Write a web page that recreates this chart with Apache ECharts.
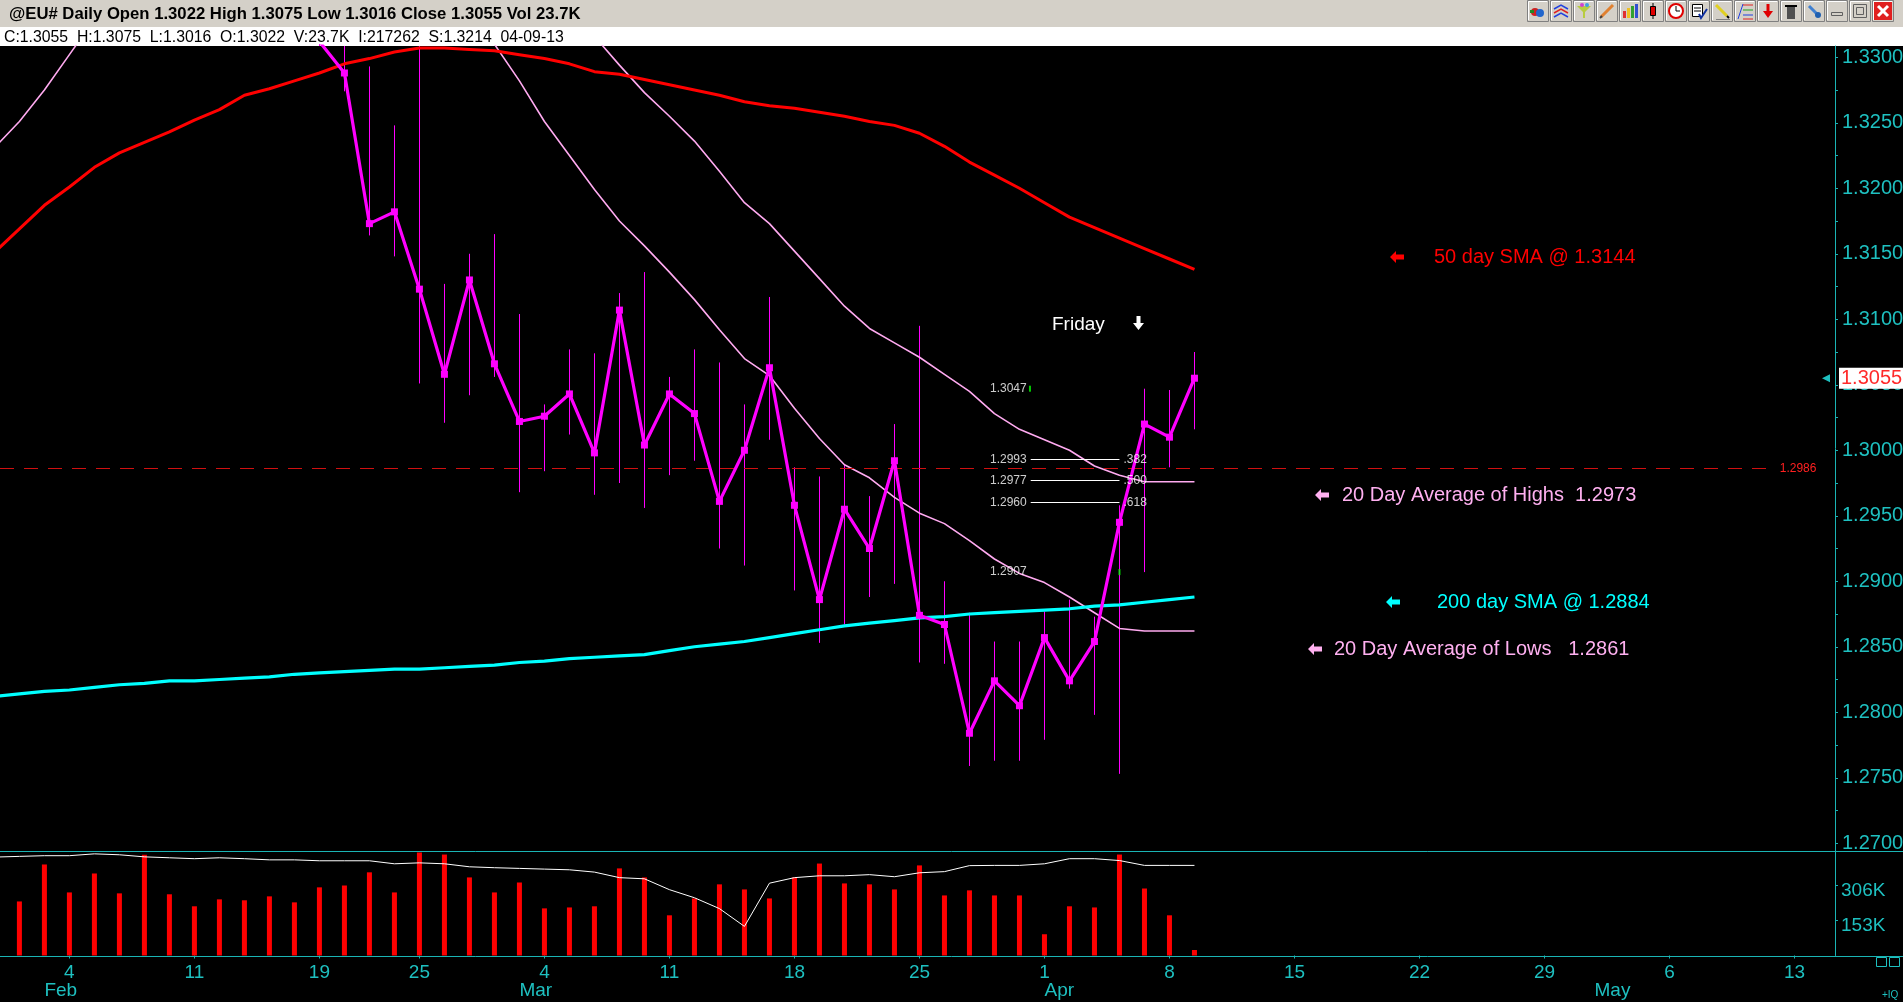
<!DOCTYPE html>
<html>
<head>
<meta charset="utf-8">
<title>@EU# Daily</title>
<script src="https://cdn.jsdelivr.net/npm/echarts@6/dist/echarts.min.js"></script>
<style>
html, body { margin: 0; padding: 0; background: #000; }
#chart { width: 1903px; height: 1002px; }
</style>
</head>
<body>
<div id="chart"></div>
<script>
// trading days, index 0 = 2013-01-30 (Presidents' Day skipped)
var startDay = '2013-01-30';
var endDay = '2013-05-17';
var holidays = ['2013-02-18'];
var monthNames = ['Jan','Feb','Mar','Apr','May','Jun','Jul','Aug','Sep','Oct','Nov','Dec'];

// daily bars, Jan 30 .. Apr 9 (above the chart top before Feb 19 -> left empty)
var closes = [null, null, null, null, null, null, null, null, null, null, null, null, null,
  1.3312, 1.3288, 1.3173, 1.3182, 1.3123, 1.3058, 1.3130, 1.3066, 1.3022, 1.3026,
  1.3043, 1.2998, 1.3107, 1.3004, 1.3043, 1.3028, 1.2961, 1.3000, 1.3063, 1.2958,
  1.2886, 1.2955, 1.2925, 1.2992, 1.2874, 1.2867, 1.2784, 1.2824, 1.2805, 1.2857,
  1.2824, 1.2854, 1.2945, 1.3020, 1.3010, 1.3055];
var highs = [null, null, null, null, null, null, null, null, null, null, null, null, null,
  1.3370, 1.3340, 1.3293, 1.3248, 1.3320, 1.3127, 1.3150, 1.3165, 1.3104, 1.3035,
  1.3077, 1.3074, 1.3120, 1.3136, 1.3056, 1.3077, 1.3067, 1.3035, 1.3117, 1.2987,
  1.2980, 1.2989, 1.2965, 1.3020, 1.3095, 1.2900, 1.2876, 1.2854, 1.2854, 1.2877,
  1.2886, 1.2873, 1.2958, 1.3047, 1.3046, 1.3075];
var lows = [null, null, null, null, null, null, null, null, null, null, null, null, null,
  1.3310, 1.3274, 1.3164, 1.3148, 1.3051, 1.3021, 1.3042, 1.3056, 1.2968, 1.2984,
  1.3012, 1.2966, 1.2975, 1.2956, 1.2981, 1.2992, 1.2925, 1.2912, 1.3008, 1.2893,
  1.2853, 1.2867, 1.2888, 1.2898, 1.2838, 1.2837, 1.2759, 1.2763, 1.2763, 1.2779,
  1.2818, 1.2798, 1.2753, 1.2907, 1.2987, 1.3016];

var sma50 = [1.3151, 1.3169, 1.3187, 1.3201, 1.3216, 1.3227, 1.3235, 1.3243, 1.3252, 1.3260,
  1.3271, 1.3276, 1.3282, 1.3288, 1.3295, 1.3299, 1.3304, 1.3307, 1.3307, 1.3306,
  1.3305, 1.3302, 1.3299, 1.3295, 1.3289, 1.3287, 1.3283, 1.3279, 1.3275, 1.3271,
  1.3266, 1.3263, 1.3261, 1.3258, 1.3255, 1.3251, 1.3248, 1.3242, 1.3232, 1.3220,
  1.3210, 1.3200, 1.3189, 1.3178, 1.3170, 1.3162, 1.3154, 1.3146, 1.3138];
var sma200 = [1.2812, 1.2814, 1.2816, 1.2817, 1.2819, 1.2821, 1.2822, 1.2824, 1.2824, 1.2825,
  1.2826, 1.2827, 1.2829, 1.2830, 1.2831, 1.2832, 1.2833, 1.2833, 1.2834, 1.2835,
  1.2836, 1.2838, 1.2839, 1.2841, 1.2842, 1.2843, 1.2844, 1.2847, 1.2850, 1.2852,
  1.2854, 1.2857, 1.2860, 1.2863, 1.2866, 1.2868, 1.2870, 1.2872, 1.2873, 1.2875,
  1.2876, 1.2877, 1.2878, 1.2879, 1.2881, 1.2882, 1.2884, 1.2886, 1.2888];
var avgLows20 = [1.3231, 1.3251, 1.3275, 1.3302, 1.3329, null, null, null, null, null,
  null, null, null, null, null, null, null, null, null, 1.3336,
  1.3310, 1.3282, 1.3251, 1.3225, 1.3199, 1.3175, 1.3156, 1.3136, 1.3115, 1.3092,
  1.3070, 1.3057, 1.3032, 1.3009, 1.2989, 1.2979, 1.2964, 1.2952, 1.2944, 1.2931,
  1.2917, 1.2906, 1.2899, 1.2888, 1.2876, 1.2864, 1.2862, 1.2862, 1.2862];
var avgHighs20 = [null, null, null, null, null, null, null, null, null, null,
  null, null, null, null, null, null, null, null, null, null,
  null, null, null, 1.3340, 1.3316, 1.3294, 1.3273, 1.3255, 1.3236, 1.3213,
  1.3189, 1.3173, 1.3152, 1.3131, 1.3110, 1.3093, 1.3082, 1.3071, 1.3058, 1.3045,
  1.3028, 1.3016, 1.3008, 1.3000, 1.2988, 1.2981, 1.2976, 1.2976, 1.2976];

// volume in thousands
var volumes = [null, 234, 394, 273, 355, 269, 436, 265, 213, 243, 239, 256, 230, 295, 303,
  360, 273, 446, 437, 338, 273, 316, 204, 208, 213, 377, 338, 174, 247, 308, 286,
  247, 338, 398, 312, 308, 286, 390, 260, 282, 260, 260, 92, 213, 208, 437, 290,
  174, 23.7];
var volumeAvg = [426, 429, 432, 432, 440, 436, 427, 423, 419, 423, 419, 414, 414, 410, 410,
  410, 397, 401, 397, 384, 380, 377, 374, 371, 361, 337, 332, 285, 250, 203, 126,
  313, 337, 345, 345, 350, 341, 358, 363, 389, 390, 390, 397, 419, 419, 411, 390,
  390, 390];

// axis ticks
var priceLabels = [1.2700, 1.2750, 1.2800, 1.2850, 1.2900, 1.2950, 1.3000, 1.3050, 1.3100, 1.3150, 1.3200, 1.3250, 1.3300];
var volumeLabels = [153, 306];

// drawn levels
var refLevel = 1.2986;
var fibHigh = 1.3047, fibLow = 1.2907;
var fibLevels = [1.2993, 1.2977, 1.2960];
var fibRatios = ['.382', '.500', '.618'];

// ---------------------------------------------------------------
var XMIN = 0.224, XMAX = 73.62;
var YMIN = 1.26941, YMAX = 1.33086;
var FONT = "'Liberation Sans', Arial, sans-serif";
var AXIS = '#1ec0c0', AXIS_LINE = '#1ab4b4';
var PINK = '#ffaaf0';

var days = [];
var dd = new Date(startDay + 'T00:00:00Z');
var endT = new Date(endDay + 'T00:00:00Z').getTime();
while (dd.getTime() <= endT) {
  var key = dd.toISOString().slice(0, 10);
  var wd = dd.getUTCDay();
  if (wd !== 0 && wd !== 6 && holidays.indexOf(key) < 0) days.push(new Date(dd.getTime()));
  dd.setUTCDate(dd.getUTCDate() + 1);
}
var weekStarts = [], monthStarts = [];
for (var i = 1; i < days.length && i <= XMAX; i++) {
  if (days[i].getUTCDay() < days[i - 1].getUTCDay()) weekStarts.push(i);
  if (days[i].getUTCMonth() !== days[i - 1].getUTCMonth()) monthStarts.push(i);
}

var priceTicks = [];
priceLabels.forEach(function (v, k) {
  priceTicks.push(v);
  if (k < priceLabels.length - 1) priceTicks.push(+(v + 0.0025).toFixed(4));
});

function pairs(arr) {
  return arr.map(function (v, k) { return [k, v]; });
}
var hlData = [];
highs.forEach(function (h, k) {
  if (h != null) hlData.push([k, lows[k], h]);
});
var lastIdx = closes.length - 1;
var lastClose = closes[lastIdx];
var fibLeft = 41.45, fibRight = lastIdx - 3;

var fibMarkLines = fibLevels.map(function (lv) {
  return [{ coord: [fibLeft, lv], lineStyle: { color: '#ffffff', width: 1, type: 'solid' }, label: { show: false } },
          { coord: [fibRight, lv] }];
});

var fibText = [];
[fibHigh].concat(fibLevels).concat([fibLow]).forEach(function (lv) {
  fibText.push({ value: [fibLeft, lv], label: { position: 'left', formatter: lv.toFixed(4) } });
});
fibLevels.forEach(function (lv, k) {
  fibText.push({ value: [fibRight, lv], label: { position: 'right', formatter: fibRatios[k] } });
});

// ---------------------------------------------------------------
// page furniture
var g = [];
g.push({ type: 'rect', shape: { x: 0, y: 0, width: 1903, height: 27 }, style: { fill: '#d4d0c8' } });
g.push({ type: 'rect', shape: { x: 0, y: 27, width: 1903, height: 19 }, style: { fill: '#ffffff' } });
g.push({ type: 'text', x: 9, y: 14, style: { text: '@EU# Daily Open 1.3022 High 1.3075 Low 1.3016 Close 1.3055 Vol 23.7K',
  fill: '#000', font: 'bold 16.7px ' + FONT, verticalAlign: 'middle' } });
g.push({ type: 'text', x: 4, y: 38, style: { text: 'C:1.3055  H:1.3075  L:1.3016  O:1.3022  V:23.7K  I:217262  S:1.3214  04-09-13',
  fill: '#000', font: '15.8px ' + FONT, verticalAlign: 'middle' } });

function R(x, y, w, h, fill, stroke) { g.push({ type: 'rect', shape: { x: x, y: y, width: w, height: h }, style: { fill: fill, stroke: stroke || null } }); }
function L(pts, stroke, w) { g.push({ type: 'polyline', shape: { points: pts }, style: { stroke: stroke, lineWidth: w || 1, fill: null } }); }
function P(pts, fill) { g.push({ type: 'polygon', shape: { points: pts }, style: { fill: fill } }); }
function C(x, y, r, fill, stroke, w) { g.push({ type: 'circle', shape: { cx: x, cy: y, r: r }, style: { fill: fill, stroke: stroke || null, lineWidth: w || 1 } }); }

// toolbar buttons
for (var b = 0; b < 16; b++) {
  var bx = 1527 + b * 23;
  R(bx + 0.5, 0.5, 21, 21, '#d4d0c8', '#808080');
  L([[bx + 1.5, 20], [bx + 1.5, 1.5], [bx + 20, 1.5]], '#ffffff');
  if (b === 0) { C(bx + 8, 12, 4, '#cc2222'); C(bx + 13, 13, 4, '#2266cc'); R(bx + 3, 10, 4, 3, '#228822'); }
  if (b === 1) { L([[bx + 4, 9], [bx + 11, 5], [bx + 18, 9]], '#2040e0', 1.5); L([[bx + 4, 13], [bx + 11, 9], [bx + 18, 13]], '#e02020', 1.5); L([[bx + 4, 17], [bx + 11, 13], [bx + 18, 17]], '#2040e0', 1.5); }
  if (b === 2) { P([[bx + 4, 6], [bx + 18, 6], [bx + 12, 12], [bx + 12, 18], [bx + 10, 18], [bx + 10, 12]], '#b8cc40'); C(bx + 9, 5, 2, '#d040d0'); C(bx + 14, 5, 2, '#40a0e0'); }
  if (b === 3) { L([[bx + 5, 17], [bx + 17, 5]], '#e08030', 3); L([[bx + 4, 18], [bx + 6, 16]], '#404040', 2); }
  if (b === 4) { R(bx + 4, 11, 3, 7, '#e03030'); R(bx + 8, 8, 3, 10, '#f0c020'); R(bx + 12, 6, 3, 12, '#30a030'); R(bx + 16, 4, 3, 14, '#3050d0'); }
  if (b === 5) { L([[bx + 11, 3], [bx + 11, 19]], '#000'); R(bx + 8.5, 6.5, 5, 9, '#e00000', '#000'); }
  if (b === 6) { C(bx + 11, 11, 7, '#ffffff', '#e00000', 2); L([[bx + 11, 11], [bx + 11, 6]], '#000'); L([[bx + 11, 11], [bx + 15, 11]], '#000'); }
  if (b === 7) { R(bx + 4.5, 4.5, 10, 12, '#ffffff', '#000'); L([[bx + 6, 8], [bx + 13, 8]], '#000'); L([[bx + 6, 11], [bx + 13, 11]], '#000'); L([[bx + 11, 14], [bx + 13, 18], [bx + 19, 9]], '#1030a0', 2); }
  if (b === 8) { L([[bx + 5, 5], [bx + 16, 16]], '#e0d020', 3); L([[bx + 16, 16], [bx + 18, 18]], '#000', 2); L([[bx + 5, 19.5], [bx + 19, 19.5]], '#808080'); }
  if (b === 9) { L([[bx + 4, 19], [bx + 9, 4]], '#2040e0'); L([[bx + 9, 5], [bx + 19, 5]], '#e02020'); L([[bx + 9, 10], [bx + 19, 10]], '#20a020'); L([[bx + 9, 15], [bx + 19, 15]], '#2040e0'); L([[bx + 9, 19], [bx + 19, 19]], '#e02020'); }
  if (b === 10) { R(bx + 9.5, 4, 3, 7, '#e00000'); P([[bx + 6, 11], [bx + 16, 11], [bx + 11, 18]], '#e00000'); }
  if (b === 11) { R(bx + 7, 7, 8, 12, '#505050'); R(bx + 5, 5, 12, 2, '#000'); }
  if (b === 12) { L([[bx + 6, 6], [bx + 15, 15]], '#4080d0', 3); C(bx + 15, 15, 3, '#2060b0'); }
  if (b === 13) { R(bx + 5.5, 12.5, 11, 3, '#d4d0c8', '#606060'); }
  if (b === 14) { R(bx + 4.5, 4.5, 13, 13, '#d4d0c8', '#606060'); R(bx + 7.5, 7.5, 7, 7, '#d4d0c8', '#606060'); }
  if (b === 15) { R(bx + 2, 2, 18, 18, '#e02020'); L([[bx + 6, 6], [bx + 16, 16]], '#fff', 3); L([[bx + 16, 6], [bx + 6, 16]], '#fff', 3); }
}

// panel separators
L([[0, 851.5], [1903, 851.5]], AXIS_LINE, 1);
L([[0, 956.5], [1903, 956.5]], AXIS_LINE, 1);

// annotations
function leftArrow(x, y, color) {
  P([[x, y], [x + 6, y - 6], [x + 6, y - 2.5], [x + 14, y - 2.5], [x + 14, y + 2.5], [x + 6, y + 2.5], [x + 6, y + 6]], color);
}
function note(x, y, text, color) {
  g.push({ type: 'text', x: x, y: y, style: { text: text, fill: color, font: '20px ' + FONT, verticalAlign: 'middle' } });
}
leftArrow(1390, 257, '#ff0000');
note(1434, 257, '50 day SMA @ 1.3144', '#ff0000');
leftArrow(1315, 495, '#ffb0f0');
note(1342, 495, '20 Day Average of Highs  1.2973', '#ffb0f0');
leftArrow(1386, 602, '#00ffff');
note(1437, 602, '200 day SMA @ 1.2884', '#00ffff');
leftArrow(1308, 649, '#ffb0f0');
note(1334, 649, '20 Day Average of Lows   1.2861', '#ffb0f0');

g.push({ type: 'text', x: 1052, y: 325, style: { text: 'Friday', fill: '#ffffff', font: '19px ' + FONT, verticalAlign: 'middle' } });
P([[1136.5, 316], [1140.5, 316], [1140.5, 323], [1144, 323], [1138.5, 330], [1133, 323], [1136.5, 323]], '#ffffff');

// corner widgets
R(1876.5, 957.5, 10, 9, null, AXIS);
R(1889.5, 957.5, 10, 9, null, AXIS);
g.push({ type: 'text', x: 1882, y: 995, style: { text: '+IQ', fill: AXIS, font: '10px ' + FONT, verticalAlign: 'middle' } });

// ---------------------------------------------------------------
var chart = echarts.init(document.getElementById('chart'));
var option = {
  backgroundColor: '#000000',
  animation: false,
  grid: [
    { left: 0, top: 46, width: 1835, height: 805, outerBoundsMode: 'none', containLabel: false },
    { left: 0, top: 852, width: 1835, height: 103.5, outerBoundsMode: 'none', containLabel: false }
  ],
  xAxis: [
    { type: 'value', gridIndex: 0, min: XMIN, max: XMAX, show: false },
    { type: 'value', gridIndex: 1, min: XMIN, max: XMAX, position: 'bottom',
      axisLine: { show: false }, splitLine: { show: false },
      axisTick: { show: true, customValues: weekStarts, length: 3, lineStyle: { color: AXIS_LINE } },
      axisLabel: { customValues: weekStarts, margin: 8, color: AXIS, fontSize: 19, fontFamily: FONT,
        formatter: function (v) { return String(days[Math.round(v)].getUTCDate()); } } },
    { type: 'value', gridIndex: 1, min: XMIN, max: XMAX, position: 'bottom', offset: 19,
      axisLine: { show: false }, splitLine: { show: false }, axisTick: { show: false },
      axisLabel: { customValues: monthStarts, margin: 7, align: 'left', color: AXIS, fontSize: 19, fontFamily: FONT,
        formatter: function (v) { return monthNames[days[Math.round(v)].getUTCMonth()]; } } }
  ],
  yAxis: [
    { type: 'value', gridIndex: 0, position: 'right', min: YMIN, max: YMAX,
      splitLine: { show: false },
      axisLine: { show: true, lineStyle: { color: AXIS_LINE, width: 1 } },
      axisTick: { show: true, customValues: priceTicks, length: 3, inside: false, lineStyle: { color: AXIS_LINE } },
      axisLabel: { customValues: priceLabels, margin: 7, color: AXIS, fontSize: 20, fontFamily: FONT,
        formatter: function (v) { return v.toFixed(4); } } },
    { type: 'value', gridIndex: 1, position: 'right', min: 0, max: 448,
      splitLine: { show: false },
      axisLine: { show: true, lineStyle: { color: AXIS_LINE, width: 1 } },
      axisTick: { show: true, customValues: volumeLabels, length: 3, lineStyle: { color: AXIS_LINE } },
      axisLabel: { customValues: volumeLabels, margin: 6, color: AXIS, fontSize: 19, fontFamily: FONT,
        verticalAlign: 'top', lineHeight: 12,
        formatter: function (v) { return v + 'K'; } } }
  ],
  series: [
    { name: 'Range', type: 'custom', xAxisIndex: 0, yAxisIndex: 0, data: hlData, z: 2,
      renderItem: function (params, api) {
        var x = api.value(0);
        var lo = api.coord([x, api.value(1)]);
        var hi = api.coord([x, api.value(2)]);
        var cs = params.coordSys;
        var y1 = Math.max(hi[1], cs.y), y2 = Math.min(lo[1], cs.y + cs.height);
        var px = Math.round(lo[0]) + 0.5;
        return { type: 'line', shape: { x1: px, y1: y1, x2: px, y2: y2 }, style: { stroke: '#ff00ff', lineWidth: 1 } };
      } },
    { name: '20 Day Average of Lows', type: 'line', data: pairs(avgLows20), showSymbol: false, symbol: 'none', z: 3,
      lineStyle: { color: PINK, width: 1.6 }, connectNulls: false },
    { name: '20 Day Average of Highs', type: 'line', data: pairs(avgHighs20), showSymbol: false, symbol: 'none', z: 3,
      lineStyle: { color: PINK, width: 1.6 }, connectNulls: false },
    { name: '200 day SMA', type: 'line', data: pairs(sma200), symbol: 'none', z: 4,
      lineStyle: { color: '#00ffff', width: 3.2 } },
    { name: '50 day SMA', type: 'line', data: pairs(sma50), symbol: 'none', z: 4,
      lineStyle: { color: '#ff0000', width: 3 } },
    { name: 'Close', type: 'line', data: pairs(closes), z: 6, connectNulls: false,
      symbol: 'rect', symbolSize: 7, showSymbol: true,
      itemStyle: { color: '#ff00ff' }, lineStyle: { color: '#ff00ff', width: 3.2 },
      markLine: { silent: true, symbol: ['none', 'none'], animation: false, precision: 4,
        data: [
          [{ coord: [XMIN, refLevel], lineStyle: { color: '#d01010', type: [14, 10], width: 1 },
             label: { show: true, position: 'end', distance: 7, formatter: refLevel.toFixed(4), color: '#ff2020', fontSize: 12, fontFamily: FONT } },
           { coord: [71.13, refLevel] }]
        ].concat(fibMarkLines).concat([
          { yAxis: lastClose, lineStyle: { color: 'rgba(0,0,0,0)', width: 1 },
            label: { show: true, position: 'end', distance: 4, formatter: lastClose.toFixed(4), color: '#ff2a2a',
              backgroundColor: '#ffffff', fontSize: 20, fontFamily: FONT, padding: [1, 2, 0, 2] } }
        ]) },
      markPoint: { silent: true, animation: false, symbol: 'triangle', symbolRotate: 90, symbolSize: 8,
        itemStyle: { color: AXIS }, label: { show: false },
        data: [{ coord: [73.26, lastClose] }] } },
    { name: 'fib anchors', type: 'scatter', symbol: 'rect', symbolSize: [2, 6], z: 7,
      itemStyle: { color: '#00ff00' }, data: [[41.42, fibHigh], [fibRight, fibLow]] },
    { name: 'fib labels', type: 'scatter', symbolSize: 0, z: 7, data: fibText,
      label: { show: true, color: '#ffffff', fontSize: 12, fontFamily: FONT, distance: 4 } },
    { name: 'Volume', type: 'bar', xAxisIndex: 1, yAxisIndex: 1, data: pairs(volumes), barWidth: 5,
      itemStyle: { color: '#ff0000' } },
    { name: 'Avg Volume', type: 'line', xAxisIndex: 1, yAxisIndex: 1, data: pairs(volumeAvg), symbol: 'none',
      lineStyle: { color: '#ffffff', width: 1 }, z: 5 }
  ],
  graphic: g
};
chart.setOption(option);
</script>
</body>
</html>
